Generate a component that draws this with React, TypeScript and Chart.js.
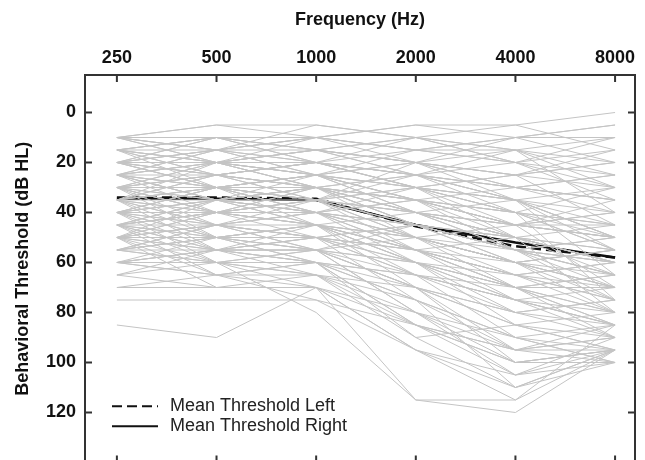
import React, { useEffect, useRef } from 'react';
import { Chart, registerables } from 'chart.js';

Chart.register(...registerables);

// ---- Data ----
const frequencyLabels = ['250', '500', '1000', '2000', '4000', '8000'];
const frequencyPositions = [0, 1, 2, 3, 4, 5];
const thresholdTicks = [0, 20, 40, 60, 80, 100, 120];

const meanThresholdLeft = [34, 34, 34.5, 45.5, 53.5, 58];
const meanThresholdRight = [34.5, 34.5, 35, 45, 52, 58];

// individual ears: thresholds (dB HL) at 250..8000 Hz
const individualThresholds = [
  [10, 5, 5, 10, 15, 20],
  [15, 10, 10, 5, 5, 0],
  [20, 15, 10, 15, 10, 5],
  [10, 15, 20, 25, 15, 10],
  [25, 20, 15, 10, 20, 15],
  [15, 20, 25, 20, 25, 30],
  [30, 25, 20, 25, 30, 25],
  [20, 25, 30, 35, 40, 45],
  [35, 30, 25, 30, 35, 40],
  [25, 30, 35, 30, 45, 50],
  [40, 35, 30, 35, 40, 55],
  [30, 35, 40, 45, 50, 60],
  [45, 40, 35, 40, 45, 50],
  [35, 40, 45, 50, 55, 65],
  [50, 45, 40, 45, 55, 60],
  [40, 45, 50, 55, 60, 70],
  [55, 50, 45, 50, 60, 65],
  [45, 50, 55, 60, 65, 75],
  [60, 55, 50, 55, 65, 70],
  [50, 55, 60, 65, 70, 80],
  [15, 20, 15, 20, 30, 40],
  [20, 15, 20, 25, 35, 45],
  [25, 30, 25, 40, 55, 65],
  [30, 25, 30, 45, 60, 70],
  [35, 30, 35, 50, 65, 75],
  [40, 35, 40, 55, 70, 80],
  [45, 40, 45, 60, 75, 85],
  [50, 45, 50, 65, 80, 90],
  [55, 60, 55, 70, 85, 95],
  [60, 65, 60, 75, 90, 95],
  [65, 60, 65, 80, 95, 100],
  [70, 70, 65, 70, 85, 90],
  [75, 75, 75, 85, 100, 95],
  [85, 90, 70, 95, 110, 95],
  [55, 60, 80, 115, 120, 95],
  [60, 65, 70, 115, 115, 85],
  [10, 15, 10, 20, 25, 15],
  [15, 10, 15, 10, 15, 25],
  [20, 25, 20, 15, 20, 30],
  [25, 20, 25, 30, 25, 20],
  [30, 35, 30, 25, 30, 35],
  [35, 40, 35, 30, 40, 45],
  [40, 45, 40, 35, 45, 50],
  [45, 50, 45, 40, 50, 55],
  [50, 55, 50, 45, 55, 60],
  [55, 50, 55, 50, 60, 55],
  [20, 25, 35, 50, 60, 55],
  [25, 30, 40, 55, 65, 60],
  [30, 40, 45, 60, 70, 65],
  [35, 45, 50, 65, 75, 70],
  [40, 50, 55, 70, 80, 75],
  [45, 55, 60, 75, 90, 85],
  [15, 25, 30, 40, 45, 35],
  [25, 35, 30, 35, 50, 60],
  [30, 40, 35, 45, 55, 50],
  [35, 25, 30, 40, 50, 55],
  [40, 30, 25, 35, 45, 40],
  [45, 35, 35, 40, 55, 65],
  [50, 40, 30, 45, 60, 70],
  [20, 30, 45, 60, 80, 75],
  [25, 35, 45, 70, 95, 90],
  [30, 45, 55, 80, 105, 100],
  [35, 50, 60, 85, 100, 95],
  [40, 55, 65, 90, 110, 95],
  [45, 60, 70, 95, 115, 95],
  [50, 65, 75, 95, 105, 90],
  [15, 10, 20, 30, 50, 60],
  [20, 20, 25, 35, 55, 75],
  [10, 20, 30, 40, 45, 50],
  [50, 40, 40, 50, 60, 80],
  [60, 50, 45, 55, 65, 80],
  [65, 55, 55, 60, 70, 85],
  [20, 10, 15, 25, 40, 55],
  [30, 20, 20, 30, 35, 30],
  [40, 30, 30, 25, 30, 25],
  [45, 35, 25, 20, 10, 5],
  [35, 20, 10, 5, 10, 10],
  [25, 15, 5, 10, 5, 15],
  [10, 5, 10, 15, 15, 40],
  [55, 45, 50, 55, 50, 45],
  [10, 10, 15, 20, 30, 35],
  [15, 15, 10, 15, 20, 10],
  [20, 20, 15, 20, 25, 20],
  [25, 25, 20, 25, 35, 50],
  [30, 30, 25, 35, 45, 45],
  [35, 35, 30, 40, 50, 60],
  [40, 40, 35, 45, 55, 60],
  [45, 45, 40, 50, 60, 75],
  [50, 50, 45, 55, 70, 70],
  [55, 55, 50, 60, 75, 85],
  [10, 20, 25, 30, 40, 30],
  [15, 25, 20, 30, 35, 50],
  [20, 30, 25, 35, 45, 40],
  [25, 35, 40, 45, 55, 50],
  [30, 40, 40, 50, 60, 55],
  [35, 45, 45, 55, 65, 60],
  [40, 50, 50, 60, 70, 65],
  [45, 55, 55, 65, 75, 80],
  [50, 60, 55, 70, 80, 85],
  [15, 20, 30, 45, 55, 70],
  [20, 15, 25, 40, 50, 65],
  [25, 20, 30, 50, 70, 85],
  [30, 25, 35, 55, 75, 90],
  [35, 30, 40, 60, 85, 95],
  [40, 35, 45, 65, 90, 100],
  [45, 40, 50, 75, 95, 95],
  [50, 45, 55, 80, 100, 100],
  [55, 50, 60, 85, 95, 90],
  [60, 55, 60, 90, 85, 80],
  [10, 15, 25, 15, 10, 20],
  [20, 10, 20, 10, 20, 35],
  [25, 15, 15, 20, 15, 30],
  [30, 20, 15, 25, 20, 25],
  [35, 25, 20, 30, 25, 45],
  [40, 30, 35, 20, 35, 55],
  [45, 40, 30, 35, 30, 35],
  [50, 35, 40, 30, 40, 50],
  [55, 45, 35, 40, 35, 50],
  [60, 55, 55, 45, 50, 60],
  [20, 30, 35, 25, 35, 65],
  [25, 40, 45, 50, 45, 70],
  [30, 50, 50, 45, 50, 80],
  [35, 55, 45, 55, 70, 90],
  [15, 30, 40, 35, 40, 75],
  [40, 60, 60, 70, 100, 95],
  [45, 65, 65, 75, 110, 100],
  [50, 70, 70, 85, 105, 95],
  [65, 70, 70, 80, 90, 100],
  [70, 65, 60, 65, 75, 85],
  [60, 60, 65, 85, 95, 85],
];

const FONT = "'Liberation Sans', Arial, Helvetica, sans-serif";

const toPoints = (values: number[]) =>
  values.map((v, i) => ({ x: frequencyPositions[i], y: v }));

const framePlugin = {
  id: 'frameTicks',
  afterDraw(chart: any) {
    const { ctx, chartArea: a, scales } = chart;
    ctx.save();
    ctx.strokeStyle = '#333';
    ctx.lineWidth = 2;
    ctx.strokeRect(a.left, a.top, a.right - a.left, a.bottom - a.top);
    const tick = 7;
    ctx.beginPath();
    for (const v of frequencyPositions) {
      const x = scales.x.getPixelForValue(v);
      ctx.moveTo(x, a.top);
      ctx.lineTo(x, a.top + tick);
      ctx.moveTo(x, a.bottom);
      ctx.lineTo(x, a.bottom - tick);
    }
    for (const v of thresholdTicks) {
      const y = scales.y.getPixelForValue(v);
      ctx.moveTo(a.left, y);
      ctx.lineTo(a.left + tick, y);
      ctx.moveTo(a.right, y);
      ctx.lineTo(a.right - tick, y);
    }
    ctx.stroke();
    ctx.restore();
  },
};

const legendPlugin = {
  id: 'meanLegend',
  afterDatasetsDraw(chart: any) {
    const { ctx, chartArea: a, scales } = chart;
    const items = chart.data.datasets.filter((d: any) => d.showInLegend);
    const yStart = scales.y.getPixelForValue(117.5);
    ctx.save();
    ctx.font = `18px ${FONT}`;
    ctx.textBaseline = 'middle';
    ctx.textAlign = 'left';
    items.forEach((d: any, i: number) => {
      const y = yStart + i * 20;
      const x0 = a.left + 27;
      ctx.strokeStyle = d.borderColor;
      ctx.lineWidth = 2;
      ctx.setLineDash(d.borderDash || []);
      ctx.beginPath();
      ctx.moveTo(x0, y);
      ctx.lineTo(x0 + 46, y);
      ctx.stroke();
      ctx.setLineDash([]);
      ctx.fillStyle = '#222';
      ctx.fillText(d.label, x0 + 58, y);
    });
    ctx.restore();
  },
};

export default function App() {
  const canvasRef = useRef<HTMLCanvasElement | null>(null);

  useEffect(() => {
    const canvas = canvasRef.current;
    if (!canvas) return;

    const grayDatasets = individualThresholds.map((vals, i) => ({
      label: `Ear ${i + 1}`,
      data: toPoints(vals),
      borderColor: '#c4c4c4',
      borderWidth: 1,
      pointRadius: 0,
      fill: false,
      tension: 0,
      showInLegend: false,
    }));

    const chart = new Chart(canvas, {
      type: 'line',
      data: {
        datasets: [
          ...grayDatasets,
          {
            label: 'Mean Threshold Left',
            data: toPoints(meanThresholdLeft),
            borderColor: '#111',
            borderWidth: 2.6,
            borderDash: [10, 5],
            pointRadius: 0,
            fill: false,
            tension: 0,
            showInLegend: true,
          },
          {
            label: 'Mean Threshold Right',
            data: toPoints(meanThresholdRight),
            borderColor: '#111',
            borderWidth: 2.6,
            pointRadius: 0,
            fill: false,
            tension: 0,
            showInLegend: true,
          },
        ] as any,
      },
      options: {
        responsive: false,
        animation: false,
        devicePixelRatio: 1,
        layout: { padding: { left: 0, right: 10, top: 0, bottom: 12.5 } },
        plugins: {
          legend: { display: false },
          tooltip: { enabled: false },
        },
        scales: {
          x: {
            type: 'linear',
            position: 'top',
            min: -0.32,
            max: 5.2,
            afterBuildTicks: (scale: any) => {
              scale.ticks = frequencyPositions.map((v) => ({ value: v }));
            },
            afterFit: (scale: any) => {
              scale.height = 75;
              scale.paddingLeft = 0;
              scale.paddingRight = 0;
              scale.paddingTop = 0;
              scale.paddingBottom = 0;
            },
            ticks: {
              callback: (v: any) => frequencyLabels[Math.round(Number(v))] ?? '',
              font: { family: FONT, size: 18, weight: 'bold' },
              color: '#111',
              padding: 6,
              maxRotation: 0,
              autoSkip: false,
            },
            grid: { display: false, drawTicks: false },
            border: { display: false },
            title: {
              display: true,
              text: 'Frequency (Hz)',
              font: { family: FONT, size: 18, weight: 'bold' },
              color: '#111',
              padding: { top: 9, bottom: 0 },
            },
          },
          y: {
            type: 'linear',
            position: 'left',
            reverse: true,
            min: -15,
            max: 140,
            afterBuildTicks: (scale: any) => {
              scale.ticks = thresholdTicks.map((v) => ({ value: v }));
            },
            afterFit: (scale: any) => {
              scale.width = 85;
              scale.paddingLeft = 0;
              scale.paddingRight = 0;
              scale.paddingTop = 0;
              scale.paddingBottom = 0;
            },
            ticks: {
              font: { family: FONT, size: 18, weight: 'bold' },
              color: '#111',
              padding: 9,
              autoSkip: false,
            },
            grid: { display: false, drawTicks: false },
            border: { display: false },
            title: {
              display: true,
              text: 'Behavioral Threshold (dB HL)',
              font: { family: FONT, size: 18, weight: 'bold' },
              color: '#111',
              padding: { top: 12, bottom: 0 },
            },
          },
        },
      } as any,
      plugins: [legendPlugin, framePlugin],
    });

    return () => chart.destroy();
  }, []);

  return (
    <div
      style={{
        position: 'fixed',
        left: 0,
        top: 0,
        width: 645,
        height: 460,
        overflow: 'hidden',
        background: '#fff',
      }}
    >
      <canvas ref={canvasRef} width={645} height={475} style={{ display: 'block' }} />
    </div>
  );
}
